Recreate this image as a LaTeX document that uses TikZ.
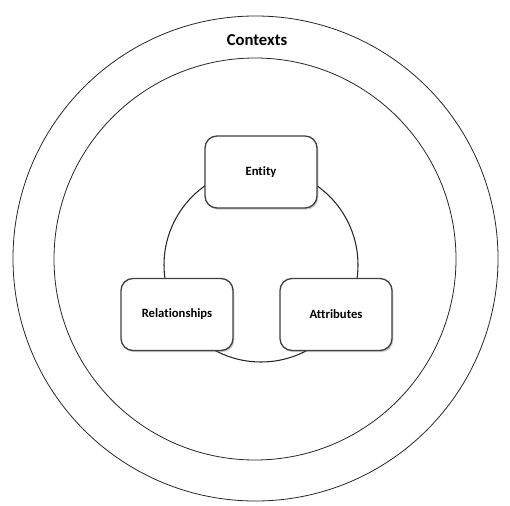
\documentclass[tikz,border=0pt]{standalone}
\usepackage{fontspec}
\setmainfont{Carlito}[Ligatures=NoCommon]
\usetikzlibrary{shadows}

\begin{document}
\begin{tikzpicture}[
  x=0.75pt, y=-0.75pt,
  ring/.style={draw=black!85, line width=0.6pt},
  cycle/.style={draw=black!85, line width=0.8pt},
  part/.style={draw=black!75, line width=1pt, fill=white, rounded corners=9pt,
    minimum width=84pt, minimum height=54pt, font=\fontsize{9.5}{11}\selectfont\bfseries,
    drop shadow={shadow xshift=1pt, shadow yshift=-1.2pt, opacity=0.35, fill=black!60}}
]
\useasboundingbox (0,0) rectangle (510,506);
% rings
\draw[ring] (255.5,258.5) circle (242.5);
\draw[ring] (255,259) circle (201);
\node[font=\fontsize{12.5}{14}\selectfont\bfseries] (contexts) at (257,40) {Contexts};
% cycle of the three parts
\draw[cycle] (261,265) circle (97);
\node[part] (entity) at (261,172) {Entity};
\node[part] (relationships) at (177,314.5) {Relationships};
\node[part] (attributes) at (336,314.5) {Attributes};
\end{tikzpicture}
\end{document}
